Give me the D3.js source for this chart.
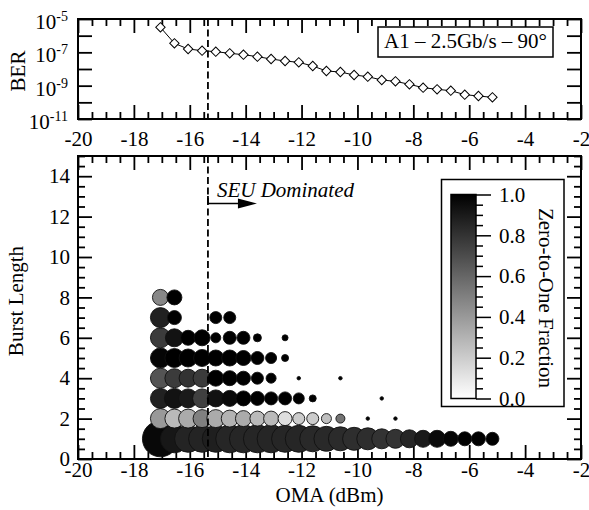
<!DOCTYPE html>
<html><head><meta charset="utf-8">
<script src="https://cdn.jsdelivr.net/npm/d3@7"></script>
<style>
body{margin:0;background:#fff}
svg{display:block}
text{font-family:"Liberation Serif","Times New Roman",Times,serif;fill:#000}
</style>
</head><body>
<svg id="c" width="589" height="510"></svg>
<script>
// ---------- DATA ----------
const omaValues = [-17.05,-16.55,-16.06,-15.56,-15.07,-14.57,-14.08,-13.58,-13.09,-12.59,-12.10,-11.60,-11.11,-10.61,-10.12,-9.63,-9.13,-8.64,-8.14,-7.65,-7.15,-6.66,-6.16,-5.67,-5.17];
const berLog10 = [-5.5,-6.46,-6.8,-6.9,-6.96,-7.06,-7.14,-7.26,-7.4,-7.52,-7.6,-7.82,-8.12,-8.18,-8.36,-8.46,-8.66,-8.74,-8.92,-9.12,-9.22,-9.3,-9.54,-9.62,-9.7];
const xTickLabels = [-20,-18,-16,-14,-12,-10,-8,-6,-4,-2];
const berTickExp = [-11,-10,-9,-8,-7,-6,-5];
const burstTickLabels = [0,2,4,6,8,10,12,14];
const fracTickLabels = [0,0.2,0.4,0.6,0.8,1.0];
const seuThreshold = -15.35;
const legendLabel = "A1 \u2013 2.5Gb/s \u2013 90\u00b0";

// bubble rows: [OMA (dBm), marker size, zero-to-one fraction]
const burst1 = [[-17.05,36,0.97],[-16.55,28,0.91],[-16.06,27,0.86],[-15.56,27,0.86],[-15.07,27,0.88],[-14.57,28,0.85],[-14.08,28,0.85],[-13.58,28,0.85],[-13.09,28,0.85],[-12.59,27,0.85],[-12.10,27,0.85],[-11.60,26,0.84],[-11.11,25,0.84],[-10.61,24,0.83],[-10.12,23,0.82],[-9.63,22,0.82],[-9.13,20,0.80],[-8.64,19,0.80],[-8.14,18,0.85],[-7.65,17,0.90],[-7.15,17,0.96],[-6.66,15,0.98],[-6.16,14,1.0],[-5.67,14,1.0],[-5.17,13,1.0]];
const burst2 = [[-17.05,20,0.40],[-16.55,19,0.27],[-16.06,19,0.33],[-15.56,18,0.50],[-15.07,18,0.33],[-14.57,17,0.30],[-14.08,16,0.33],[-13.58,15,0.27],[-13.09,15,0.27],[-12.59,14,0.13],[-12.10,12,0.20],[-11.60,12,0.20],[-11.11,10,0.25],[-10.61,9,0.55],[-9.63,3.5,1.0],[-8.64,3.5,1.0]];
const burst3 = [[-17.05,20,0.87],[-16.55,20,0.93],[-16.06,19,0.90],[-15.56,19,0.75],[-15.07,17,0.93],[-14.57,16,0.96],[-14.08,15,1.0],[-13.58,14,1.0],[-13.09,13,1.0],[-12.59,13,1.0],[-12.10,11,1.0],[-11.60,7,1.0],[-9.13,3.5,1.0]];
const burst4 = [[-17.05,20,0.67],[-16.55,19,0.77],[-16.06,18,0.80],[-15.56,18,0.77],[-15.07,16,1.0],[-14.57,15,1.0],[-14.08,14,1.0],[-13.58,12,1.0],[-13.09,10,1.0],[-12.10,3.5,1.0],[-10.61,3.5,1.0]];
const burst5 = [[-17.05,20,0.98],[-16.55,19,1.0],[-16.06,18,1.0],[-15.56,17,1.0],[-15.07,16,1.0],[-14.57,16,1.0],[-14.08,15,1.0],[-13.58,13,1.0],[-13.09,11,1.0],[-12.59,7,1.0]];
const burst6 = [[-17.05,20,0.77],[-16.55,18,0.93],[-16.06,15,1.0],[-15.56,16,1.0],[-15.07,10,1.0],[-14.57,13,1.0],[-14.08,13,1.0],[-13.58,8,1.0],[-12.59,6,1.0]];
const burst7 = [[-17.05,20,0.87],[-16.55,14,1.0],[-15.07,12,1.0],[-14.57,12,1.0]];
const burst8 = [[-17.05,16,0.47],[-16.55,15,1.0]];
const burstRows = [burst1,burst2,burst3,burst4,burst5,burst6,burst7,burst8];

// ---------- LAYOUT ----------
const FONT = '"Liberation Serif","Times New Roman",Times,serif';
const FS = 21;
const L = 78, R = 581;
const topT = 19, topB = 119, botT = 156, botB = 459;
const svg = d3.select("#c");

const x = d3.scaleLinear().domain([-20,-2]).range([L,R]);
const yBer = d3.scaleLog().domain([1e-11,1e-5]).range([topB,topT]);
const yBurst = d3.scaleLinear().domain([0,15]).range([botB,botT]);
const gray = d3.scaleLinear().domain([0,1]).range(["#ffffff","#000000"]);
const rScale = d3.scaleLinear().domain([0,40]).range([0,20]);

const xMinor = d3.range(-20,-1.99,0.5).filter(v => Math.abs(v % 2) > 0.01);
const burstMinor = d3.range(0,15.01,0.5).filter(v => v % 2 !== 0);

function styleAxis(g, sw){
  g.attr("font-family", FONT).attr("font-size", FS);
  g.select(".domain").remove();
  g.selectAll("line").attr("stroke","#000").attr("stroke-width", sw || 1.8);
  g.selectAll("text").attr("fill","#000");
  return g;
}
function xAxes(top, bottom, labels, pad){
  const b = svg.append("g").attr("transform",`translate(0,${bottom})`)
    .call(d3.axisBottom(x).tickValues(xTickLabels).tickSize(-14).tickPadding(pad)
      .tickFormat(labels ? (d => String(d)) : ""));
  styleAxis(b);
  styleAxis(svg.append("g").attr("transform",`translate(0,${bottom})`)
    .call(d3.axisBottom(x).tickValues(xMinor).tickSize(-7).tickFormat("")));
  styleAxis(svg.append("g").attr("transform",`translate(0,${top})`)
    .call(d3.axisTop(x).tickValues(xTickLabels).tickSize(-14).tickFormat("")));
  styleAxis(svg.append("g").attr("transform",`translate(0,${top})`)
    .call(d3.axisTop(x).tickValues(xMinor).tickSize(-7).tickFormat("")));
  return b;
}

// ---------- TOP PANEL ----------
xAxes(topT, topB, true, 12);
const berTicks = berTickExp.map(e => Math.pow(10,e));
const yl = svg.append("g").attr("transform",`translate(${L},0)`)
  .call(d3.axisLeft(yBer).tickValues(berTicks).tickSize(-14).tickPadding(10).tickFormat(""));
styleAxis(yl);
yl.selectAll(".tick").each(function(d){
  const e = Math.round(Math.log10(d));
  const t = d3.select(this).select("text").attr("dy","0.45em");
  if (e % 2 !== 0) {
    t.append("tspan").text("10");
    t.append("tspan").attr("dy",-8).attr("font-size",14).text(String(e));
  }
});
styleAxis(svg.append("g").attr("transform",`translate(${R},0)`)
  .call(d3.axisRight(yBer).tickValues(berTicks).tickSize(-14).tickFormat("")));

const berData = omaValues.map((v,i) => [v, Math.pow(10, berLog10[i])]);
svg.append("path").datum(berData)
  .attr("d", d3.line().x(d => x(d[0])).y(d => yBer(d[1])))
  .attr("fill","none").attr("stroke","#000").attr("stroke-width",1);
svg.append("g").selectAll("path").data(berData).join("path")
  .attr("transform", d => `translate(${x(d[0])},${yBer(d[1])}) rotate(45)`)
  .attr("d", d3.symbol(d3.symbolSquare, 44)())
  .attr("fill","#fff").attr("stroke","#000").attr("stroke-width",1);

svg.append("line").attr("x1",x(seuThreshold)).attr("x2",x(seuThreshold))
  .attr("y1",topT).attr("y2",topB)
  .attr("stroke","#000").attr("stroke-width",1.8).attr("stroke-dasharray","7,3.5");

svg.append("rect").attr("x",378).attr("y",27).attr("width",175).attr("height",30)
  .attr("fill","#fff").attr("stroke","#000").attr("stroke-width",1.5);
svg.append("text").attr("x",465.5).attr("y",48).attr("text-anchor","middle")
  .attr("font-size",FS).text(legendLabel);

svg.append("rect").attr("x",L).attr("y",topT).attr("width",R-L).attr("height",topB-topT)
  .attr("fill","none").attr("stroke","#000").attr("stroke-width",2);

svg.append("text").attr("transform",`translate(25,${(topT+topB)/2+2}) rotate(-90)`)
  .attr("text-anchor","middle").attr("font-size",FS).text("BER");

// ---------- BOTTOM PANEL ----------
xAxes(botT, botB, true, 3);
styleAxis(svg.append("g").attr("transform",`translate(${L},0)`)
  .call(d3.axisLeft(yBurst).tickValues(burstTickLabels).tickSize(-14).tickPadding(8).tickFormat(d => String(d))));
styleAxis(svg.append("g").attr("transform",`translate(${L},0)`)
  .call(d3.axisLeft(yBurst).tickValues(burstMinor).tickSize(-7).tickFormat("")));
styleAxis(svg.append("g").attr("transform",`translate(${R},0)`)
  .call(d3.axisRight(yBurst).tickValues(burstTickLabels).tickSize(-14).tickFormat("")));
styleAxis(svg.append("g").attr("transform",`translate(${R},0)`)
  .call(d3.axisRight(yBurst).tickValues(burstMinor).tickSize(-7).tickFormat("")));

const bubbles = svg.append("g");
burstRows.forEach((row, i) => {
  const burst = i + 1;
  bubbles.append("g").selectAll("circle").data(row).join("circle")
    .attr("cx", d => x(d[0])).attr("cy", yBurst(burst))
    .attr("r", d => rScale(d[1]))
    .attr("fill", d => gray(d[2]))
    .attr("stroke","#111").attr("stroke-width",0.9);
});

svg.append("line").attr("x1",x(seuThreshold)).attr("x2",x(seuThreshold))
  .attr("y1",botT).attr("y2",botB)
  .attr("stroke","#000").attr("stroke-width",1.8).attr("stroke-dasharray","7,3.5");

// SEU annotation
const ax0 = x(seuThreshold), ay = 203.5;
svg.append("line").attr("x1",ax0).attr("x2",ax0).attr("y1",196).attr("y2",ay)
  .attr("stroke","#000").attr("stroke-width",1.8);
svg.append("line").attr("x1",ax0).attr("x2",ax0+32).attr("y1",ay).attr("y2",ay)
  .attr("stroke","#000").attr("stroke-width",1.6);
svg.append("path").attr("d",`M${ax0+30},${ay-5}L${ax0+49},${ay}L${ax0+30},${ay+5}Z`).attr("fill","#000");
svg.append("text").attr("x",ax0+9).attr("y",196.5).attr("font-size",FS)
  .attr("font-style","italic").text("SEU Dominated");

// colour bar legend
svg.append("rect").attr("x",441.5).attr("y",179.5).attr("width",122.5).attr("height",227)
  .attr("fill","#fff").attr("stroke","#000").attr("stroke-width",1.5);
const defs = svg.append("defs");
const grad = defs.append("linearGradient").attr("id","cb").attr("x1",0).attr("y1",1).attr("x2",0).attr("y2",0);
d3.range(0,1.001,0.1).forEach(t => grad.append("stop").attr("offset",t).attr("stop-color",gray(t)));
const cbY = d3.scaleLinear().domain([0,1]).range([398.5,194.5]);
const cbX0 = 451, cbX1 = 476;
svg.append("rect").attr("x",cbX0).attr("y",cbY(1)).attr("width",cbX1-cbX0).attr("height",cbY(0)-cbY(1))
  .attr("fill","url(#cb)").attr("stroke","#000").attr("stroke-width",1.5);
styleAxis(svg.append("g").attr("transform",`translate(${cbX1},0)`)
  .call(d3.axisRight(cbY).tickValues(fracTickLabels).tickSize(15).tickPadding(8).tickFormat(d3.format(".1f"))), 1.5);
styleAxis(svg.append("g").attr("transform",`translate(${cbX1},0)`)
  .call(d3.axisRight(cbY).tickValues(d3.range(0.05,1,0.05).filter(v => Math.abs(v*5-Math.round(v*5))>0.01)).tickSize(7).tickFormat("")), 1.5);
svg.append("text").attr("transform",`translate(538.5,298) rotate(90)`)
  .attr("text-anchor","middle").attr("font-size",FS).text("Zero-to-One Fraction");

svg.append("rect").attr("x",L).attr("y",botT).attr("width",R-L).attr("height",botB-botT)
  .attr("fill","none").attr("stroke","#000").attr("stroke-width",2);

svg.append("text").attr("transform",`translate(23,301) rotate(-90)`)
  .attr("text-anchor","middle").attr("font-size",FS).text("Burst Length");
svg.append("text").attr("x",(L+R)/2).attr("y",502).attr("text-anchor","middle")
  .attr("font-size",FS).text("OMA (dBm)");
</script>
</body></html>
